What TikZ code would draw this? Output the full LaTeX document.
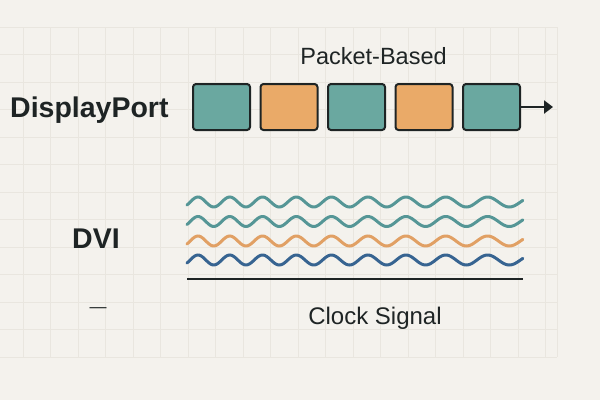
\documentclass[tikz,border=0pt]{standalone}
\usepackage{xcolor}
\usepackage{fontspec}
\setmainfont{Liberation Sans}
\usepackage{tikz}
\usetikzlibrary{arrows.meta,positioning,calc}
\definecolor{mybg}{RGB}{244,242,237}
\definecolor{mygrid}{RGB}{233,230,223}
\definecolor{myteal}{RGB}{106,168,160}
\definecolor{myorange}{RGB}{234,170,104}
\definecolor{mywteal}{RGB}{85,150,150}
\definecolor{myworange}{RGB}{225,160,100}
\definecolor{mywblue}{RGB}{55,100,145}
\definecolor{mydark}{RGB}{30,36,36}

\begin{document}
\begin{tikzpicture}[x=1pt,y=-1pt,
  packet/.style={draw=mydark,line width=2pt,rounded corners=3pt,
                 minimum width=57pt,minimum height=46pt,inner sep=0pt},
  wave/.style={line width=3pt,line cap=round},
  lbl/.style={text=mydark,inner sep=0pt}]
  \useasboundingbox[fill=mybg] (0,0) rectangle (600,400);
  % background grid
  \foreach \k in {0,...,12}
    \draw[mygrid,line width=0.8pt] (0,{27+27.5*\k}) -- (557,{27+27.5*\k});
  \foreach \k in {0,...,19}
    \draw[mygrid,line width=0.8pt] ({23+27.5*\k},27) -- ({23+27.5*\k},357);
  \draw[mygrid,line width=0.8pt] (557,27) -- (557,357);

  % labels
  \node[lbl,font=\fontsize{28.5}{34}\selectfont\bfseries,anchor=base west]
    (dp) at (10,117) {DisplayPort};
  \node[lbl,font=\fontsize{28.5}{34}\selectfont\bfseries,anchor=base]
    (dvi) at (96,248) {DVI};
  \node[lbl,font=\fontsize{23.5}{28}\selectfont,anchor=base]
    (pb) at (373.5,64) {Packet-Based};
  \node[lbl,font=\fontsize{24}{28}\selectfont,anchor=base]
    (clk) at (375,324) {Clock Signal};
  \node[lbl,font=\fontsize{17}{20}\selectfont] (dash) at (98,310) {—};

  % packets
  \foreach \i/\col in {1/myteal,2/myorange,3/myteal,4/myorange,5/myteal}
    \node[packet,fill=\col] (p\i) at ({221.5+67.5*(\i-1)},107) {};
  \coordinate (dpend) at (553,107);
  \draw[mydark,line width=2.6pt,-{Triangle[length=9pt,width=13pt]}] (p5.east) -- (dpend);

  % parallel signals
  \foreach \y/\col in {202/mywteal,221.5/mywteal,241/myworange,260/mywblue}
    \draw[wave,\col] plot[domain=0:3.36,samples=220,smooth]
      ({187+100*\x},{\y-5*cos(360*(3.23*\x-0.15*\x*\x-0.3535))});
  \coordinate (clkL) at (187,279);
  \coordinate (clkR) at (523,279);
  \draw[mydark,line width=2.6pt] (clkL) -- (clkR);
\end{tikzpicture}
\end{document}
